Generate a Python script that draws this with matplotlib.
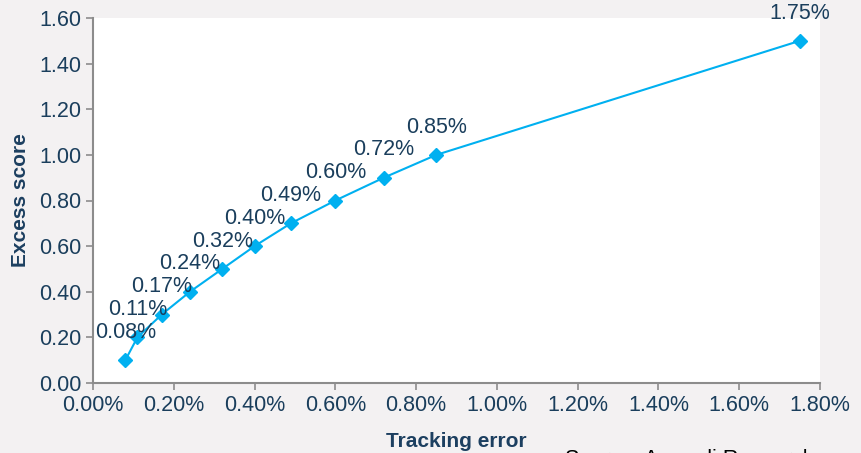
import matplotlib.pyplot as plt
from matplotlib.ticker import FuncFormatter

# Tracking error (%) vs excess score
tracking_error = [0.08, 0.11, 0.17, 0.24, 0.32, 0.40, 0.49, 0.60, 0.72, 0.85, 1.75]
excess_score = [0.10, 0.20, 0.30, 0.40, 0.50, 0.60, 0.70, 0.80, 0.90, 1.00, 1.50]
point_labels = ["0.08%", "0.11%", "0.17%", "0.24%", "0.32%", "0.40%",
                "0.49%", "0.60%", "0.72%", "0.85%", "1.75%"]

plt.rcParams["font.family"] = ["Liberation Sans", "DejaVu Sans"]
text_col = "#1a3e5c"
label_col = "#1c3f60"
line_col = "#00b0f0"

fig = plt.figure(figsize=(8.61, 4.53), dpi=100)
fig.patch.set_facecolor("#f3f1f2")
ax = fig.add_axes([93 / 861, 1 - 383 / 453, (820 - 93) / 861, (383 - 18) / 453])
ax.set_facecolor("white")

ax.plot(tracking_error, excess_score, color=line_col, lw=1.5,
        marker="D", markersize=7.5, markerfacecolor=line_col, markeredgecolor=line_col)

for x, y, lab in zip(tracking_error, excess_score, point_labels):
    ax.annotate(lab, (x, y), xytext=(0, 20), textcoords="offset points",
                ha="center", va="center", fontsize=15.5, color=text_col)

ax.set_xlim(0, 1.8)
ax.set_ylim(0, 1.6)
ax.set_xticks([i * 0.2 for i in range(10)])
ax.set_yticks([i * 0.2 for i in range(9)])
ax.xaxis.set_major_formatter(FuncFormatter(lambda v, p: f"{v:.2f}%"))
ax.yaxis.set_major_formatter(FuncFormatter(lambda v, p: f"{v:.2f}"))

for s in ["top", "right"]:
    ax.spines[s].set_visible(False)
for s in ["left", "bottom"]:
    ax.spines[s].set_color("#8c8c8c")
    ax.spines[s].set_linewidth(1.5)
ax.tick_params(colors="#8c8c8c", labelcolor=text_col, labelsize=15.5, length=5, width=1.2)

ax.set_xlabel("Tracking error", fontsize=15, fontweight="bold", color=label_col, labelpad=12)
ax.set_ylabel("Excess score", fontsize=15, fontweight="bold", color=label_col, labelpad=6)

# source line sits at the bottom edge, mostly cropped as in the original
fig.text(565 / 861, 1 - 449 / 453, "Source: Amundi Research", fontsize=15.5,
         color="black", ha="left", va="top")

fig.savefig("out.png", dpi=100, facecolor=fig.get_facecolor())
